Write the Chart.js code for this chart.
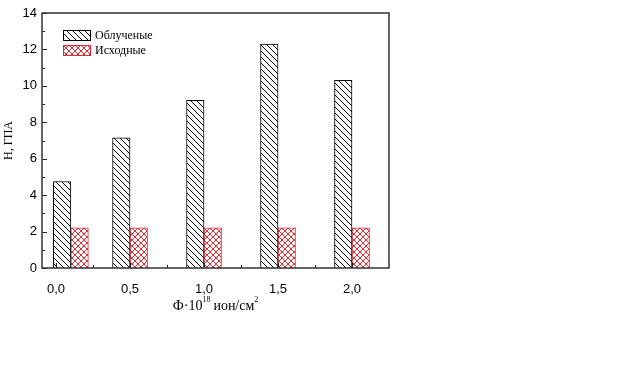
<!DOCTYPE html>
<html>
<head>
<meta charset="utf-8">
<script src="https://cdn.jsdelivr.net/npm/chart.js@4.4.0/dist/chart.umd.min.js"></script>
<style>
html,body{margin:0;padding:0;background:#fff;}
#wrap{width:640px;height:379px;position:relative;}
</style>
</head>
<body>
<div id="wrap"><canvas id="c" width="640" height="379"></canvas></div>
<script>
// ---- data ----
const fluence = [0.1, 0.5, 1.0, 1.5, 2.0];          // x positions of bar groups (as plotted)
const xTickValues = [0, 0.5, 1.0, 1.5, 2.0];
const xTickLabels = ['0,0', '0,5', '1,0', '1,5', '2,0'];
const irradiated = [4.75, 7.15, 9.2, 12.3, 10.3];   // Облученые
const initial = [2.2, 2.2, 2.2, 2.2, 2.2];           // Исходные
const seriesNames = ['Облученые', 'Исходные'];
const yTicks = [0, 2, 4, 6, 8, 10, 12, 14];

function hatchPattern() {
  const c = document.createElement('canvas');
  c.width = 6; c.height = 6;
  const g = c.getContext('2d');
  g.fillStyle = '#fff'; g.fillRect(0, 0, 6, 6);
  g.strokeStyle = '#000'; g.lineWidth = 1;
  g.beginPath();
  g.moveTo(-1, -1); g.lineTo(7, 7);
  g.moveTo(-1, 5); g.lineTo(1, 7);
  g.moveTo(5, -1); g.lineTo(7, 1);
  g.stroke();
  return g.createPattern(c, 'repeat');
}
function crossPattern() {
  const c = document.createElement('canvas');
  c.width = 6; c.height = 6;
  const g = c.getContext('2d');
  g.fillStyle = '#fff'; g.fillRect(0, 0, 6, 6);
  g.strokeStyle = '#e8282e'; g.lineWidth = 1;
  g.beginPath();
  g.moveTo(-1, -1); g.lineTo(7, 7);
  g.moveTo(-1, 5); g.lineTo(1, 7);
  g.moveTo(5, -1); g.lineTo(7, 1);
  g.moveTo(7, -1); g.lineTo(-1, 7);
  g.moveTo(1, -1); g.lineTo(-1, 1);
  g.moveTo(7, 5); g.lineTo(5, 7);
  g.stroke();
  return g.createPattern(c, 'repeat');
}

const pHatch = hatchPattern();
const pCross = crossPattern();

const framePlugin = {
  id: 'frame',
  afterDraw(chart) {
    const {ctx, chartArea: a, scales} = chart;
    ctx.save();
    // ticks inward
    ctx.strokeStyle = '#222'; ctx.lineWidth = 1;
    ctx.beginPath();
    for (let v = 0; v <= 14; v += 1) {
      const y = Math.round(scales.y.getPixelForValue(v)) + 0.5;
      const len = v % 2 === 0 ? 5 : 3;
      ctx.moveTo(a.left, y); ctx.lineTo(a.left + len, y);
    }
    for (let v = 0; v <= 2.0001; v += 0.25) {
      const x = Math.round(scales.x.getPixelForValue(v)) + 0.5;
      const major = Math.abs(v * 2 - Math.round(v * 2)) < 1e-6;
      const len = major ? 5 : 3;
      ctx.moveTo(x, a.bottom); ctx.lineTo(x, a.bottom - len);
    }
    ctx.stroke();
    // frame
    ctx.strokeStyle = '#333'; ctx.lineWidth = 1.5;
    ctx.strokeRect(a.left, a.top, a.right - a.left, a.bottom - a.top);
    // legend
    const ds = chart.data.datasets;
    ctx.font = '12px "Liberation Serif", "Times New Roman", serif';
    ctx.textBaseline = 'middle';
    ds.forEach((d, i) => {
      const bx = a.left + 21, by = a.top + 17 + i * 15;
      ctx.fillStyle = d.backgroundColor;
      ctx.fillRect(bx, by, 27, 10);
      ctx.strokeStyle = d.borderColor; ctx.lineWidth = 1;
      ctx.strokeRect(bx + 0.5, by + 0.5, 27, 10);
      ctx.fillStyle = '#000';
      ctx.fillText(d.label, bx + 32, by + 5.5);
    });
    // x title with superscripts
    const cx = (a.left + a.right) / 2;
    const ty = a.bottom + 42;
    const big = '14px "Liberation Serif", "Times New Roman", serif';
    const small = '8px "Liberation Serif", "Times New Roman", serif';
    const parts = [['Ф·10', big, 0, 0], ['18', small, -8, 3], ['ион/см', big, 0, 0], ['2', small, -8, 0]];
    let total = 0;
    parts.forEach(p => { ctx.font = p[1]; total += ctx.measureText(p[0]).width + p[3]; });
    let x = cx - total / 2;
    ctx.textBaseline = 'alphabetic';
    ctx.textAlign = 'left';
    parts.forEach(p => { ctx.font = p[1]; ctx.fillText(p[0], x, ty + p[2]); x += ctx.measureText(p[0]).width + p[3]; });
    ctx.restore();
  }
};

new Chart(document.getElementById('c'), {
  type: 'bar',
  data: {
    datasets: [
      { label: seriesNames[0], data: fluence.map((f, i) => ({x: f, y: irradiated[i]})),
        backgroundColor: pHatch, borderColor: '#000', borderWidth: 1, borderSkipped: 'bottom' },
      { label: seriesNames[1], data: fluence.map((f, i) => ({x: f, y: initial[i]})),
        backgroundColor: pCross, borderColor: '#e8282e', borderWidth: 1, borderSkipped: 'bottom' }
    ]
  },
  options: {
    responsive: false,
    animation: false,
    barThickness: 17.5,
    layout: { padding: { left: 2, top: 13, right: 251, bottom: 71 } },
    plugins: { legend: { display: false }, tooltip: { enabled: false } },
    scales: {
      x: {
        type: 'linear', min: -0.095, max: 2.25, offset: false,
        afterFit(s) { s.height = 40; },
        afterBuildTicks(s) { s.ticks = xTickValues.map(v => ({value: v})); },
        grid: { display: false, drawTicks: false },
        border: { display: false },
        ticks: {
          padding: 14, color: '#000',
          font: { family: '"Liberation Sans", Arial, sans-serif', size: 13 },
          callback: (v) => { const i = xTickValues.findIndex(t => Math.abs(t - v) < 1e-6); return i >= 0 ? xTickLabels[i] : ''; }
        }
      },
      y: {
        min: 0, max: 14,
        afterFit(s) { s.width = 40; },
        afterBuildTicks(s) { s.ticks = yTicks.map(v => ({value: v})); },
        grid: { display: false, drawTicks: false },
        border: { display: false },
        ticks: { padding: 5, color: '#000', font: { family: '"Liberation Sans", Arial, sans-serif', size: 13 } },
        title: { display: true, text: 'H, ГПА', color: '#000', padding: 0,
          font: { family: '"Liberation Serif", "Times New Roman", serif', size: 12 } }
      }
    }
  },
  plugins: [framePlugin]
});
</script>
</body>
</html>
